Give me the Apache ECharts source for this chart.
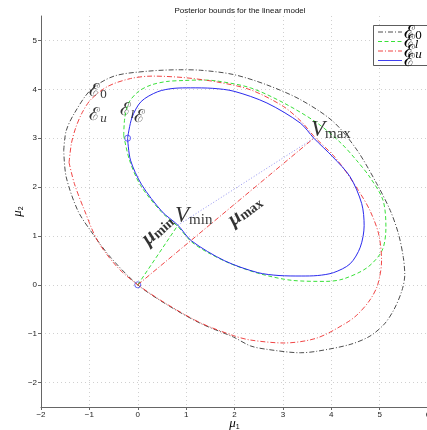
<!DOCTYPE html>
<html><head><meta charset="utf-8">
<script src="https://cdn.jsdelivr.net/npm/echarts@6/dist/echarts.min.js"></script>
<style>html,body{margin:0;padding:0;background:#fff}#c{width:427px;height:430px}</style>
</head><body><div id="c"></div>
<script>
// ---- data ----
const xTicks = [-2, -1, 0, 1, 2, 3, 4, 5, 6];
const yTicks = [-2, -1, 0, 1, 2, 3, 4, 5];
const seriesNames = ['ℰ0', 'ℰl', 'ℰu', 'ℰ'];

// ℰ0 (black dash-dot)
const E0 = [[-1.53,2.75],[-1.48,3.15],[-1.31,3.51],[-0.97,3.99],[-0.49,4.27],[0.20,4.37],[0.89,4.40],[1.30,4.39],[1.99,4.30],[2.67,4.09],[3.36,3.79],[4.04,3.34],[4.53,2.76],[4.94,2.07],[5.22,1.52],[5.39,1.04],[5.49,0.56],[5.52,0.20],[5.46,-0.12],[5.30,-0.50],[5.10,-0.80],[4.80,-1.05],[4.39,-1.22],[3.70,-1.36],[3.36,-1.39],[2.67,-1.32],[2.33,-1.25],[1.98,-1.07],[1.30,-0.79],[0.61,-0.41],[0,0],[-0.56,0.56],[-0.97,1.10],[-1.24,1.52],[-1.48,2.21],[-1.53,2.75]];
// ℰl (green dashed)
const El = [[-0.29,3.05],[-0.27,3.40],[-0.19,3.72],[0.02,3.96],[0.28,4.09],[0.60,4.16],[0.95,4.18],[1.30,4.19],[1.64,4.17],[2.33,4.03],[3.02,3.72],[3.71,3.31],[4.20,2.90],[4.52,2.55],[4.80,2.20],[5.07,1.73],[5.13,1.17],[5.05,0.70],[4.74,0.35],[4.25,0.12],[3.89,0.07],[3.20,0.09],[2.55,0.22],[1.95,0.42],[1.45,0.66],[1.11,0.88],[0.83,1.19],[0.50,1.48],[0.06,2.03],[-0.17,2.55],[-0.29,3.05]];
// ℰu (red dash-dot)
const Eu = [[-1.42,2.50],[-1.37,2.90],[-1.28,3.22],[-1.15,3.52],[-0.97,3.79],[-0.62,4.06],[-0.15,4.22],[0.30,4.27],[0.95,4.24],[1.64,4.15],[2.33,3.99],[3.01,3.65],[3.38,3.34],[3.66,3.02],[4.05,2.64],[4.30,2.32],[4.60,1.87],[4.80,1.52],[4.98,1.04],[5.04,0.49],[4.96,0.00],[4.80,-0.31],[4.55,-0.60],[4.31,-0.78],[3.70,-1.09],[3.02,-1.19],[2.33,-1.13],[1.98,-1.04],[1.30,-0.78],[0.61,-0.40],[0,0],[-0.42,0.36],[-0.83,0.90],[-1.10,1.52],[-1.31,2.07],[-1.42,2.50]];
// ℰ (blue solid)
const E = [[-0.21,3.00],[-0.12,3.42],[0.07,3.75],[0.41,3.95],[0.75,4.02],[1.09,4.03],[1.55,4.02],[1.99,3.96],[2.67,3.72],[3.36,3.31],[3.64,3.00],[4.03,2.62],[4.39,2.21],[4.63,1.66],[4.68,1.21],[4.60,0.77],[4.39,0.43],[4.05,0.25],[3.72,0.19],[3.38,0.18],[2.92,0.19],[2.48,0.25],[1.80,0.49],[1.11,0.90],[0.83,1.22],[0.50,1.50],[0.08,2.05],[-0.15,2.55],[-0.21,3.00]];

const circleMarks = [[-0.21, 3.0], [0, 0]];
const origin = [0, 0];
const Vmin = [0.83, 1.22];
const Vmax = [3.64, 3.00];

// ---- chart ----
const BLACK = '#3a3a3a', GREEN = '#22dd22', RED = '#ee3030', BLUE = '#2a2aee';
const DASHDOT = [5, 2, 1, 2], DASH = [4, 2.5];
const serif = 'DejaVu Serif';
const tnr = 'Liberation Serif';

const richE = {
  e: { fontFamily: serif, fontSize: 18, color: '#000', lineHeight: 20 },
  s: { fontFamily: serif, fontSize: 11, color: '#000', lineHeight: 20, padding: [8, 0, 0, 0] },
  si: { fontFamily: serif, fontSize: 11, fontStyle: 'italic', color: '#000', lineHeight: 20, padding: [8, 0, 0, 0] },
  v: { fontFamily: tnr, fontSize: 23, fontStyle: 'italic', color: '#000', lineHeight: 24 },
  vs: { fontFamily: tnr, fontSize: 15, color: '#000', lineHeight: 24, padding: [8, 0, 0, 0] },
  m: { fontFamily: tnr, fontSize: 21, fontStyle: 'italic', fontWeight: 'bold', color: '#000', lineHeight: 22 },
  ms: { fontFamily: tnr, fontSize: 14, fontWeight: 'bold', color: '#000', lineHeight: 22, padding: [6, 0, 0, 0] }
};

function lbl(pos, text, align, rotate) {
  return { value: pos, label: { show: true, position: [0, 0], align: align, verticalAlign: 'middle', rotate: rotate || 0, formatter: text, rich: richE } };
}

const legendText = { 'ℰ0': '{e|ℰ}{s|0}', 'ℰl': '{e|ℰ}{si|l}', 'ℰu': '{e|ℰ}{si|u}', 'ℰ': '{e|ℰ}' };
const legendStyle = { 'ℰ0': [BLACK, DASHDOT], 'ℰl': [GREEN, DASH], 'ℰu': [RED, DASHDOT], 'ℰ': [BLUE, null] };
const fmt = v => (v < 0 ? '−' + (-v) : '' + v);

// hand-made legend box (MATLAB style)
const legendGraphic = [{ type: 'rect', z: 100, shape: { x: 373.5, y: 25.5, width: 80, height: 40 },
  style: { fill: '#fff', stroke: '#333', lineWidth: 0.8 } }];
seriesNames.forEach((n, i) => {
  const y = 32 + i * 9.5;
  legendGraphic.push({ type: 'line', z: 101, shape: { x1: 378, y1: y, x2: 402, y2: y },
    style: { stroke: legendStyle[n][0], lineWidth: 0.9, lineDash: legendStyle[n][1] } });
  legendGraphic.push({ type: 'text', z: 102, style: { text: legendText[n], x: 404, y: y + 1, align: 'left', verticalAlign: 'middle',
    rich: { e: { fontFamily: serif, fontSize: 18, fill: '#000', lineHeight: 18 },
            s: { fontFamily: serif, fontSize: 11, fill: '#000', lineHeight: 18, padding: [6, 0, 0, 0] },
            si: { fontFamily: serif, fontSize: 11, fontStyle: 'italic', fill: '#000', lineHeight: 18, padding: [6, 0, 0, 0] } } } });
});

const option = {
  backgroundColor: '#fff',
  animation: false,
  title: { text: 'Posterior bounds for the linear model', left: 235, top: 2, textAlign: 'center',
    textStyle: { fontSize: 8, fontWeight: 'normal', color: '#111', fontFamily: 'Liberation Sans' } },
  grid: { left: 41, right: -1, top: 16, bottom: 23, containLabel: false, outerBoundsMode: 'none' },
  graphic: legendGraphic,
  xAxis: {
    type: 'value', min: xTicks[0], max: xTicks[xTicks.length - 1], interval: 1,
    name: '{m|μ}{s|1}', nameLocation: 'middle', nameGap: 9, nameMoveOverlap: false,
    nameTextStyle: { rich: { m: { fontFamily: tnr, fontSize: 13, fontStyle: 'italic', color: '#000' }, s: { fontFamily: 'Liberation Sans', fontSize: 7, color: '#000', padding: [8, 0, 0, 0] } } },
    axisLine: { show: true, onZero: false, lineStyle: { color: '#666', width: 1 } },
    axisTick: { show: true, inside: false, length: 3, lineStyle: { color: '#666' } },
    axisLabel: { fontSize: 8, color: '#222', fontFamily: 'Liberation Sans', margin: 4, formatter: fmt, showMaxLabel: true, showMinLabel: true },
    splitLine: { show: true, lineStyle: { color: '#c4c4c4', type: [1, 3], width: 0.8 } }
  },
  yAxis: {
    type: 'value', min: -2.5, max: 5.5,
    name: '{m|μ}{s|2}', nameLocation: 'middle', nameGap: 16, nameMoveOverlap: false,
    nameTextStyle: { rich: { m: { fontFamily: tnr, fontSize: 13, fontStyle: 'italic', color: '#000' }, s: { fontFamily: 'Liberation Sans', fontSize: 7, color: '#000', padding: [8, 0, 0, 0] } } },
    axisLine: { show: true, onZero: false, lineStyle: { color: '#666', width: 1 } },
    axisTick: { show: true, inside: false, length: 3, customValues: yTicks, lineStyle: { color: '#666' } },
    axisLabel: { fontSize: 8, color: '#222', fontFamily: 'Liberation Sans', margin: 4, customValues: yTicks, formatter: fmt },
    splitLine: { show: true, lineStyle: { color: '#c4c4c4', type: [1, 3], width: 0.8 } }
  },
  series: [
    { name: 'ℰ0', type: 'line', data: E0, smooth: 0.3, symbol: 'none', silent: true, lineStyle: { color: BLACK, width: 0.9, type: DASHDOT }, itemStyle: { color: BLACK } },
    { name: 'ℰl', type: 'line', data: El, smooth: 0.3, symbol: 'none', silent: true, lineStyle: { color: GREEN, width: 0.9, type: DASH }, itemStyle: { color: GREEN } },
    { name: 'ℰu', type: 'line', data: Eu, smooth: 0.3, symbol: 'none', silent: true, lineStyle: { color: RED, width: 0.9, type: DASHDOT }, itemStyle: { color: RED } },
    { name: 'ℰ', type: 'line', data: E, smooth: 0.3, symbol: 'none', silent: true, lineStyle: { color: BLUE, width: 1, type: 'solid' }, itemStyle: { color: BLUE } },
    { name: 'muMin', type: 'line', data: [origin, Vmin], symbol: 'none', silent: true, lineStyle: { color: GREEN, width: 0.9, type: DASH } },
    { name: 'muMax', type: 'line', data: [origin, Vmax], symbol: 'none', silent: true, lineStyle: { color: RED, width: 0.9, type: DASHDOT } },
    { name: 'chord', type: 'line', data: [Vmin, Vmax], symbol: 'none', silent: true, lineStyle: { color: '#8888ee', width: 0.9, type: [1, 2] } },
    { name: 'marks', type: 'scatter', data: circleMarks, symbol: 'circle', symbolSize: 6, silent: true, itemStyle: { color: 'rgba(0,0,0,0)', borderColor: BLUE, borderWidth: 0.9 } },
    { name: 'notes', type: 'scatter', symbolSize: 0, silent: true, z: 5, data: [
      lbl([-1.01, 3.96], '{e|ℰ}{s|0}', 'left'),
      lbl([-1.01, 3.47], '{e|ℰ}{si|u}', 'left'),
      lbl([-0.37, 3.56], '{e|ℰ}{si|l}', 'left'),
      lbl([-0.08, 3.43], '{e|ℰ}', 'left'),
      lbl([3.58, 3.17], '{v|V}{vs|max}', 'left'),
      lbl([0.77, 1.41], '{v|V}{vs|min}', 'left'),
      lbl([0.41, 1.12], '{m|μ}{ms|min}', 'center', 42),
      lbl([2.22, 1.51], '{m|μ}{ms|max}', 'center', 37)
    ] }
  ]
};
const chart = echarts.init(document.getElementById('c'), null, { renderer: 'canvas' });
chart.setOption(option);
</script></body></html>
